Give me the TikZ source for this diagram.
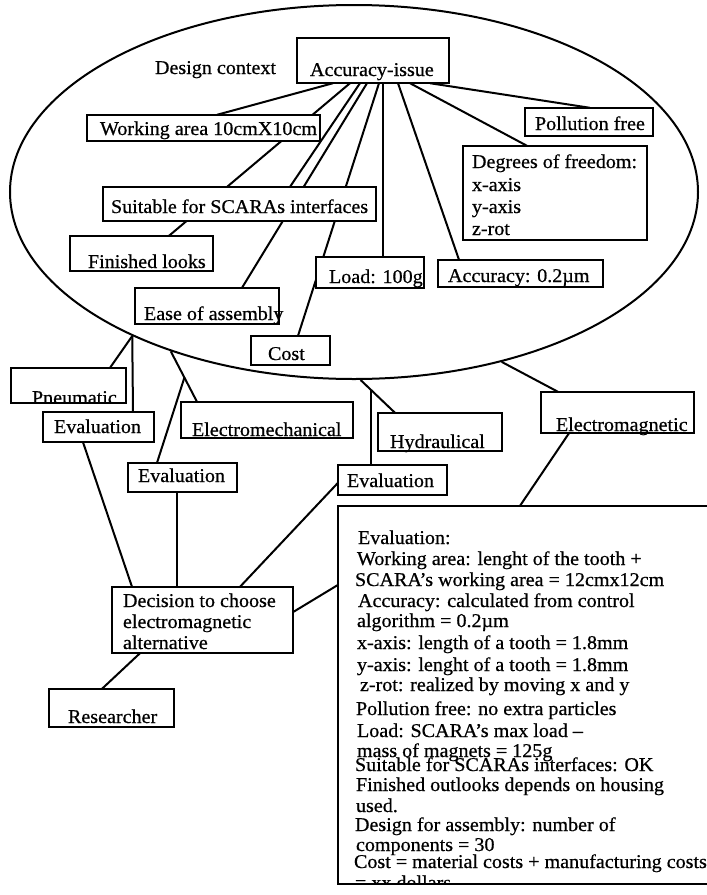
\documentclass[tikz,border=0pt]{standalone}
\usepackage{fontspec}
\setmainfont[FakeStretch=1.03,FakeBold=0.6]{Liberation Serif}
\usetikzlibrary{shapes.geometric,calc}
\tikzset{
  box/.style={fill=white, inner sep=0pt, outer sep=0pt},
  txt/.style={anchor=base west, inner sep=0pt, outer sep=0pt, font=\fontsize{19.5}{22}\selectfont},
  link/.style={line width=2pt},
  frame/.style={line width=2pt},
}
\begin{document}
\begin{tikzpicture}[x=1pt,y=-1pt]
\useasboundingbox (0,0) rectangle (707,895);

% design context
\node[draw, ellipse, line width=2pt, inner sep=0pt, minimum width=688pt, minimum height=374pt] (ctx) at (354,192) {};
\node[txt] (dctx) at (155,74) {Design context};

% node positions (boxes are placed but painted after the connectors)
\path
  (373,60.5)   node[minimum width=152pt, minimum height=45pt, inner sep=0pt] (acc) {}
  (203.5,128)  node[minimum width=233pt, minimum height=26pt, inner sep=0pt] (wa) {}
  (589,122)    node[minimum width=128pt, minimum height=28pt, inner sep=0pt] (pf) {}
  (555,193)    node[minimum width=184pt, minimum height=94pt, inner sep=0pt] (dof) {}
  (239.5,204)  node[minimum width=273pt, minimum height=34pt, inner sep=0pt] (suit) {}
  (141.5,253.5) node[minimum width=143pt, minimum height=35pt, inner sep=0pt] (fin) {}
  (207,306)    node[minimum width=144pt, minimum height=36pt, inner sep=0pt] (ease) {}
  (290.5,350.5) node[minimum width=79pt, minimum height=29pt, inner sep=0pt] (cost) {}
  (370,272.5)  node[minimum width=108pt, minimum height=31pt, inner sep=0pt] (load) {}
  (520.5,273.5) node[minimum width=165pt, minimum height=27pt, inner sep=0pt] (acc2) {}
  (68.5,385.5) node[minimum width=115pt, minimum height=35pt, inner sep=0pt] (pn) {}
  (98.5,427)   node[minimum width=111pt, minimum height=30pt, inner sep=0pt] (ev1) {}
  (267,420)    node[minimum width=172pt, minimum height=36pt, inner sep=0pt] (emech) {}
  (182.5,477.5) node[minimum width=109pt, minimum height=29pt, inner sep=0pt] (ev2) {}
  (440,432)    node[minimum width=124pt, minimum height=38pt, inner sep=0pt] (hyd) {}
  (392.5,480)  node[minimum width=109pt, minimum height=30pt, inner sep=0pt] (ev3) {}
  (617.5,412.5) node[minimum width=153pt, minimum height=41pt, inner sep=0pt] (emag) {}
  (529,695)    node[minimum width=382pt, minimum height=378pt, inner sep=0pt] (big) {}
  (202.5,620)  node[minimum width=181pt, minimum height=66pt, inner sep=0pt] (dec) {}
  (111.5,708)  node[minimum width=125pt, minimum height=38pt, inner sep=0pt] (res) {};

% connectors from the accuracy issue
\draw[link] ([xshift=-40]acc.south) -- ([xshift=13.5]wa.north);
\draw[link] ([xshift=-23]acc.south) -- ([xshift=27.5]fin.north);
\draw[link] ([xshift=-13]acc.south) -- ([xshift=50.5]suit.north);
\draw[link] ([xshift=-6]acc.south) -- ([xshift=35]ease.north);
\draw[link] ([xshift=6]acc.south) -- ([xshift=7.5]cost.north);
\draw[link] ([xshift=10]acc.south) -- ([xshift=13]load.north);
\draw[link] ([xshift=25]acc.south) -- ([xshift=-61.5]acc2.north);
\draw[link] ([xshift=37]acc.south) -- ([xshift=-28]dof.north);
\draw[link] ([xshift=57]acc.south) -- ([xshift=1]pf.north);

% connectors to the alternatives
\draw[link] (ctx.213.8) -- ([xshift=41.5]pn.north);
\draw[link] (ctx.213.8) -- ([xshift=34.5]ev1.north);
\draw[link] (ctx.221.3) -- ([xshift=-70]emech.north);
\coordinate (j1) at ($(ctx.221.3)!0.52!([xshift=-70]emech.north)$);
\draw[link] (j1) -- ([xshift=-25.5]ev2.north);
\draw[link] (ctx.272.8) -- ([xshift=-45]hyd.north);
\coordinate (j2) at ($(ctx.272.8)!0.31!([xshift=-45]hyd.north)$);
\draw[link] (j2) -- (j2 |- ev3.north);
\draw[link] (ctx.311.8) -- ([xshift=-59.5]emag.north);
\draw[link] ([xshift=-48.5]emag.south) -- ([xshift=-9]big.north);
\draw[link] ([xshift=-15.5]ev1.south) -- ([xshift=-70.5]dec.north);
\draw[link] ([xshift=-5.5]ev2.south) -- ([xshift=-25.5]dec.north);
\draw[link] ([yshift=-3]ev3.west) -- ([xshift=37.5]dec.north);
\draw[link] ([yshift=8]dec.east) -- ([yshift=110]big.west);
\draw[link] ([xshift=-62.5]dec.south) -- ([xshift=-9.5]res.north);

% white boxes over the connectors
\foreach \n in {acc,wa,pf,dof,suit,fin,ease,cost,load,acc2,pn,ev1,emech,ev2,hyd,ev3,emag,big,dec,res}
  \fill[white] (\n.south west) rectangle (\n.north east);

% labels
\node[txt] (t-acc) at (310,76) {Accuracy-issue};
\node[txt] (t-wa) at (100,135) {Working area 10cmX10cm};
\node[txt] (t-pf) at (535,130) {Pollution free};
\node[txt] (t-dof1) at (472,168) {Degrees of freedom:};
\node[txt] (t-dof2) at (472,191) {x-axis};
\node[txt] (t-dof3) at (472,213) {y-axis};
\node[txt] (t-dof4) at (472,235) {z-rot};
\node[txt] (t-suit) at (111,213) {Suitable for SCARAs interfaces};
\node[txt] (t-fin) at (88,268) {Finished looks};
\node[txt] (t-load) at (329,283) {Load: 100g};
\node[txt] (t-acc2) at (448,282) {Accuracy: 0.2µm};
\node[txt] (t-ease) at (144,320) {Ease of assembly};
\node[txt] (t-cost) at (268,360) {Cost};
\begin{scope}
  \clip (pn.south west) rectangle (pn.north east);
  \node[txt] (t-pn) at (32,404) {Pneumatic};
\end{scope}
\node[txt] (t-ev1) at (54,433) {Evaluation};
\node[txt] (t-emech) at (192,436) {Electromechanical};
\node[txt] (t-ev2) at (138,482) {Evaluation};
\node[txt] (t-hyd) at (390,448) {Hydraulical};
\node[txt] (t-ev3) at (347,487) {Evaluation};
\node[txt] (t-emag) at (556,431) {Electromagnetic};
\node[txt] (t-dec1) at (123,607) {Decision to choose};
\node[txt] (t-dec2) at (123,628) {electromagnetic};
\node[txt] (t-dec3) at (123,649) {alternative};
\node[txt] (t-res) at (68,723) {Researcher};

% evaluation of the chosen alternative
\node[txt] (b1) at (358,544) {Evaluation:};
\node[txt] (b2) at (357,565) {Working area: lenght of the tooth +};
\node[txt] (b3) at (355,586) {SCARA's working area = 12cmx12cm};
\node[txt] (b4) at (358,607) {Accuracy: calculated from control};
\node[txt] (b5) at (357,627) {algorithm = 0.2µm};
\node[txt] (b6) at (357,649) {x-axis: length of a tooth = 1.8mm};
\node[txt] (b7) at (357,671) {y-axis: lenght of a tooth = 1.8mm};
\node[txt] (b8) at (360,691) {z-rot: realized by moving x and y};
\node[txt] (b9) at (356,715) {Pollution free: no extra particles};
\node[txt] (b10) at (357,737) {Load: SCARA's max load --};
\node[txt] (b11) at (357,757) {mass of magnets = 125g};
\node[txt] (b12) at (355,771) {Suitable for SCARAs interfaces: OK};
\node[txt] (b13) at (356,791) {Finished outlooks depends on housing};
\node[txt] (b14) at (356,812) {used.};
\node[txt] (b15) at (355,831) {Design for assembly: number of};
\node[txt] (b16) at (356,851) {components = 30};
\node[txt] (b17) at (354,868) {Cost = material costs + manufacturing costs};
\begin{scope}
  \clip (big.south west) rectangle (big.north east);
  \node[txt] (b18) at (355,889) {= xx dollars};
\end{scope}

% box outlines
\foreach \n in {acc,wa,pf,dof,suit,fin,ease,cost,load,acc2,pn,ev1,emech,ev2,hyd,ev3,emag,big,dec,res}
  \draw[frame] (\n.south west) rectangle (\n.north east);
\end{tikzpicture}
\end{document}
